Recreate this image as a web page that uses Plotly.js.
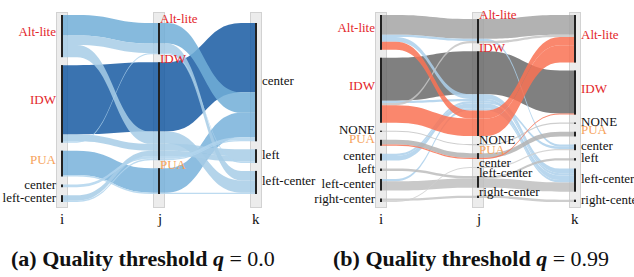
<!DOCTYPE html>
<html><head><meta charset="utf-8">
<script src="https://cdn.plot.ly/plotly-3.0.1.min.js"></script>
<style>
html,body{margin:0;padding:0;background:#fff}
#wrap{position:relative;width:634px;height:277px}
#boxes{position:absolute;left:0;top:0;width:634px;height:277px;z-index:0}
#boxes div{position:absolute;background:#ececec;border:1px solid #d2d2d2;box-sizing:border-box}
#chart{position:absolute;left:0;top:0;z-index:1}
rect.bandrect{fill-opacity:0 !important;stroke:none !important}
rect.catrect{stroke:none !important;fill-opacity:1 !important}
g.dimension:nth-child(1) rect.catrect{fill:url(#barL) !important}
g.dimension:nth-child(2) rect.catrect{fill:url(#barC) !important}
g.dimension:nth-child(3) rect.catrect{fill:url(#barR) !important}
g.paths path{fill-opacity:0.85 !important;stroke:none !important}
text.catlabel{text-shadow:none !important}
</style>
</head><body>
<svg width="0" height="0" style="position:absolute"><defs>
 <linearGradient id="barL" x1="0" x2="1" y1="0" y2="0"><stop offset="0" stop-color="#222" stop-opacity="1"/><stop offset="0.1" stop-color="#222" stop-opacity="1"/><stop offset="0.1" stop-color="#222" stop-opacity="0"/><stop offset="1" stop-color="#222" stop-opacity="0"/></linearGradient>
 <linearGradient id="barC" x1="0" x2="1" y1="0" y2="0"><stop offset="0" stop-color="#222" stop-opacity="0"/><stop offset="0.45" stop-color="#222" stop-opacity="0"/><stop offset="0.45" stop-color="#222" stop-opacity="1"/><stop offset="0.55" stop-color="#222" stop-opacity="1"/><stop offset="0.55" stop-color="#222" stop-opacity="0"/><stop offset="1" stop-color="#222" stop-opacity="0"/></linearGradient>
 <linearGradient id="barR" x1="0" x2="1" y1="0" y2="0"><stop offset="0" stop-color="#222" stop-opacity="0"/><stop offset="0.9" stop-color="#222" stop-opacity="0"/><stop offset="0.9" stop-color="#222" stop-opacity="1"/><stop offset="1" stop-color="#222" stop-opacity="1"/></linearGradient>
</defs></svg>
<div id="wrap"><div id="boxes"></div><div id="chart" style="width:634px;height:277px"></div></div>
<script>
// ---------- Panel (a): q = 0.0 ----------
const catsA_i = ['Alt-lite','IDW','PUA','center','left-center'];
const catsA_j = ['Alt-lite','IDW','PUA'];
const catsA_k = ['center','left','left-center'];
const pathsA_i = ['Alt-lite','Alt-lite','Alt-lite','IDW','IDW','IDW','PUA','PUA','center','left-center','left-center'];
const pathsA_j = ['Alt-lite','Alt-lite','IDW','Alt-lite','IDW','IDW','PUA','PUA','IDW','IDW','IDW'];
const pathsA_k = ['center','left-center','left-center','left','center','left','center','left-center','center','left','center'];
const countsA = [15,7,9,1,51,5,18,1,2,4,1];
const colorsA = ['#71aed7','#a7cce6','#a7cce6','#b2d5ed','#175aa2','#a7cce6','#78b2da','#b2d5ed','#b2d5ed','#a7cce6','#b2d5ed'];

// ---------- Panel (b): q = 0.99 ----------
const catsB_i = ['Alt-lite','IDW','NONE','PUA','center','left','left-center','right-center'];
const catsB_j = ['Alt-lite','IDW','NONE','PUA','center','left-center','right-center'];
const catsB_k = ['Alt-lite','IDW','NONE','PUA','center','left','left-center','right-center'];
const pathsB_i = ['Alt-lite','Alt-lite','Alt-lite','Alt-lite','IDW','IDW','IDW','IDW','NONE','PUA','PUA','center','center','left','left-center','left-center','right-center','right-center'];
const pathsB_j = ['Alt-lite','Alt-lite','IDW','IDW','Alt-lite','IDW','IDW','IDW','NONE','PUA','PUA','IDW','IDW','left-center','IDW','left-center','right-center','center'];
const pathsB_k = ['center','Alt-lite','Alt-lite','left-center','Alt-lite','Alt-lite','left-center','IDW','NONE','PUA','IDW','center','left-center','left','left-center','left-center','right-center','center'];
const countsB = [2,17,7,4,2,15,2,37,1,4,1,2,4,2,2,8,2,1];
const colorsB = ['#add0eb','#a4a4a4','#f97254','#add0eb','#c6c6c6','#f97254','#add0eb','#6a6a6a','#c6c6c6','#b3b3b3','#f97254','#add0eb','#add0eb','#bdbdbd','#add0eb','#c0c0c0','#c6c6c6','#cfcfcf'];

const labelColors = {'Alt-lite':'#e3262b','IDW':'#e3262b','PUA':'#f6a25a'};
const dimNames = ['i','j','k'];
const captions = ['<b>(a) Quality threshold <i>q</i></b> = 0.0', '<b>(b) Quality threshold <i>q</i></b> = 0.99'];

function tick(c){ return labelColors[c] ? '<span style="color:'+labelColors[c]+'">'+c+'</span>' : c; }
function dim(vals, cats){
  return {label:'', values: vals, categoryorder:'array', categoryarray: cats, ticktext: cats.map(tick)};
}
const FONT = 'Liberation Serif';
const W = 634, H = 277;
const domA = [21/W, 297/W], domB = [340/W, 616/W], domY = [1-202/H, 1-15/H];

const mk = (dom, counts, colors, dims) => ({type:'parcats', domain:{x:dom, y:domY}, arrangement:'fixed',
  sortpaths:'forward', bundlecolors:true, counts: counts, line:{shape:'hspline', color: colors},
  tickfont:{family:FONT, size:13, color:'#111'}, labelfont:{family:FONT, size:14}, dimensions: dims});
const traces = [
  mk(domA, countsA, colorsA, [dim(pathsA_i,catsA_i), dim(pathsA_j,catsA_j), dim(pathsA_k,catsA_k)]),
  mk(domB, countsB, colorsB, [dim(pathsB_i,catsB_i), dim(pathsB_j,catsB_j), dim(pathsB_k,catsB_k)])
];
const captionAnn = [
  {xref:'paper', yref:'paper', x: 143/W, y: 1-258/H, xanchor:'center', yanchor:'middle',
   text: captions[0], showarrow:false, font:{family:FONT, size:22, color:'#111'}},
  {xref:'paper', yref:'paper', x: 471/W, y: 1-258/H, xanchor:'center', yanchor:'middle',
   text: captions[1], showarrow:false, font:{family:FONT, size:22, color:'#111'}}
];
const layout = {width:W, height:H, margin:{l:0, r:0, t:0, b:0}, paper_bgcolor:'rgba(0,0,0,0)',
  showlegend:false, annotations: captionAnn.slice()};

// read where parcats put its axis bars (px from the left of the chart)
function measure(gd){
  const box = gd.getBoundingClientRect();
  const out = [];
  gd.querySelectorAll('g.dimensions').forEach(grp => {
    const dims = Array.from(grp.children).filter(e => e.classList.contains('dimension'));
    out.push(dims.map((dm, n) => {
      let l = 1e9, r = -1e9;
      dm.querySelectorAll('rect.catrect').forEach(rc => {
        const b = rc.getBoundingClientRect(); l = Math.min(l, b.left); r = Math.max(r, b.right);
      });
      l -= box.left; r -= box.left;
      const bar = n === 0 ? l + 1 : (n === dims.length-1 ? r - 1 : (l + r)/2);
      return {el: dm, bar: bar};
    }));
  });
  return out;
}

const gd = document.getElementById('chart');
Plotly.newPlot(gd, traces, layout, {staticPlot:true, displayModeBar:false}).then(() => {
  const m = measure(gd);
  const anns = captionAnn.slice();
  const boxes = document.getElementById('boxes');
  const gbox = gd.getBoundingClientRect();
  m.forEach(panel => panel.forEach((d, n) => {
    anns.push({xref:'paper', yref:'paper', x: d.bar/W, y: 1-219/H, xanchor:'center', yanchor:'middle',
      text: dimNames[n], showarrow:false, font:{family:FONT, size:15, color:'#111'}});
    const div = document.createElement('div');
    div.style.left = (d.bar - 6) + 'px'; div.style.width = '12px';
    div.style.top = '12px'; div.style.height = '196px';
    boxes.appendChild(div);
    // middle axis: labels start at the bar, just above the top of their category
    if (n === 1) {
      d.el.querySelectorAll('text.catlabel').forEach(t => {
        t.style.textAnchor = 'start';
        const rc = t.parentNode.querySelector('rect.catrect');
        const tb = t.getBoundingClientRect(), rb = rc.getBoundingClientRect();
        const dx = (d.bar + 1) - (tb.left - gbox.left);
        const dy = (rb.top - 4) - (tb.top + tb.height/2);
        t.style.transform = 'translate(' + dx + 'px,' + dy + 'px)';
      });
    }
  }));
  return Plotly.relayout(gd, {annotations: anns});
});
</script></body></html>
